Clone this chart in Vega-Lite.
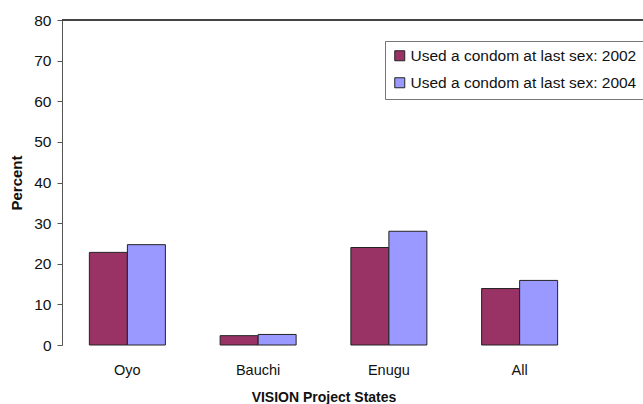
{
  "$schema": "https://vega.github.io/schema/vega-lite/v6.json",
  "width": 581,
  "height": 325,
  "autosize": {"type": "none"},
  "padding": {"left": 62, "top": 20, "right": 0, "bottom": 59},
  "background": "white",
  "config": {
    "view": {"stroke": null},
    "font": "Liberation Sans"
  },
  "data": {
    "values": [
      {"state": "Oyo", "series": "Used a condom at last sex: 2002", "percent": 22.8},
      {"state": "Oyo", "series": "Used a condom at last sex: 2004", "percent": 24.7},
      {"state": "Bauchi", "series": "Used a condom at last sex: 2002", "percent": 2.3},
      {"state": "Bauchi", "series": "Used a condom at last sex: 2004", "percent": 2.6},
      {"state": "Enugu", "series": "Used a condom at last sex: 2002", "percent": 24.0},
      {"state": "Enugu", "series": "Used a condom at last sex: 2004", "percent": 28.0},
      {"state": "All", "series": "Used a condom at last sex: 2002", "percent": 13.9},
      {"state": "All", "series": "Used a condom at last sex: 2004", "percent": 15.9}
    ]
  },
  "layer": [
    {
      "mark": {"type": "bar", "stroke": "#222222", "strokeWidth": 1},
      "encoding": {
        "x": {
          "field": "state",
          "type": "nominal",
          "sort": ["Oyo", "Bauchi", "Enugu", "All"],
          "scale": {"range": [0, 523], "paddingInner": 0, "paddingOuter": 0},
          "axis": {
            "title": "VISION Project States",
            "labelAngle": 0,
            "labelFontSize": 14.5,
            "labelColor": "#111111",
            "labelPadding": 18,
            "ticks": false,
            "domain": false,
            "titleFontSize": 14,
            "titleFontWeight": "bold",
            "titleColor": "#111111",
            "titlePadding": 14
          }
        },
        "xOffset": {
          "field": "series",
          "type": "nominal",
          "scale": {"paddingInner": 0, "paddingOuter": 0.72}
        },
        "y": {
          "field": "percent",
          "type": "quantitative",
          "scale": {"domain": [0, 80], "nice": false},
          "axis": {
            "title": "Percent",
            "values": [0, 10, 20, 30, 40, 50, 60, 70, 80],
            "grid": false,
            "domainColor": "#555555",
            "tickColor": "#555555",
            "tickSize": 5,
            "labelFontSize": 15.5,
            "labelColor": "#111111",
            "labelPadding": 6,
            "titleFontSize": 15,
            "titleFontWeight": "bold",
            "titleColor": "#111111",
            "titlePadding": 9
          }
        },
        "color": {
          "field": "series",
          "type": "nominal",
          "scale": {"range": ["#993366", "#9999FF"]},
          "legend": {
            "title": null,
            "orient": "none",
            "legendX": 323,
            "legendY": 21,
            "symbolType": "square",
            "symbolSize": 100,
            "symbolStrokeColor": "#222222",
            "symbolStrokeWidth": 1,
            "labelFontSize": 15.5,
            "labelColor": "#111111",
            "labelLimit": 300,
            "labelOffset": 3,
            "rowPadding": 10,
            "padding": 7,
            "strokeColor": "#777777",
            "fillColor": "white"
          }
        }
      }
    },
    {
      "mark": {"type": "rule", "color": "#444444", "strokeWidth": 1},
      "encoding": {"y": {"datum": 80}}
    }
  ]
}
